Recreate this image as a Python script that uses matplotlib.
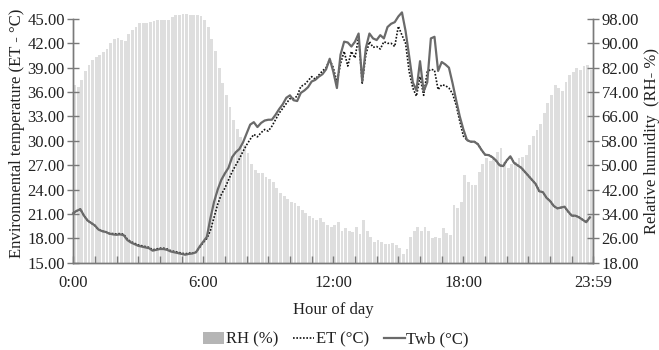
import numpy as np
import matplotlib
matplotlib.use("Agg")
import matplotlib.pyplot as plt
from matplotlib.ticker import FixedLocator, MultipleLocator
from matplotlib.patches import Patch
from matplotlib.lines import Line2D

plt.rcParams['font.family'] = ['Liberation Serif', 'DejaVu Serif']

# 10-minute readings, hours 0..23 (6 values per hour)
minutes = list(range(0, 1440, 10))

twb = [21.1, 21.4, 21.6, 20.8, 20.2, 19.9,
       19.6, 19.1, 18.9, 18.8, 18.6, 18.5,
       18.45, 18.5, 18.4, 17.8, 17.5, 17.3,
       17.1, 17.0, 16.9, 16.8, 16.5, 16.6,
       16.7, 16.7, 16.6, 16.4, 16.3, 16.2,
       16.1, 16.0, 16.1, 16.15, 16.3, 17.0,
       17.6, 18.2, 20.5, 22.5, 24.0, 25.2,
       26.0, 26.7, 28.0, 28.6, 29.0, 29.8,
       30.9, 32.0, 32.3, 31.7, 32.2, 32.5,
       32.6, 32.6, 33.2, 33.9, 34.5, 35.3,
       35.6, 35.0, 34.9, 35.9, 36.2, 36.6,
       37.3, 37.5, 37.9, 38.2, 38.8, 40.1,
       38.5, 36.5, 40.6, 42.2, 42.1, 41.6,
       42.2, 43.2, 37.3, 41.4, 43.2, 42.6,
       42.4, 43.0, 42.6, 44.0, 44.4, 44.6,
       45.3, 45.8, 43.5, 40.4, 37.2, 36.2,
       39.8, 36.1, 37.2, 42.6, 42.8, 38.6,
       39.7, 39.4, 39.0, 37.1, 35.0, 33.0,
       31.4, 30.1, 29.9, 29.9, 29.6, 28.9,
       28.3, 28.25, 28.0, 27.6, 27.0, 26.9,
       27.6, 28.1, 27.3, 27.0, 26.7, 26.2,
       25.7, 25.2, 24.7, 23.8, 23.7, 23.0,
       22.6, 22.0, 21.7, 21.8, 21.9, 21.3,
       20.8, 20.8, 20.6, 20.3, 20.0, 20.6]

et = [21.1, 21.4, 21.6, 20.8, 20.2, 19.9,
      19.6, 19.1, 18.9, 18.8, 18.6, 18.6,
      18.55, 18.6, 18.5, 17.9, 17.6, 17.4,
      17.2, 17.1, 17.0, 16.9, 16.6, 16.7,
      16.8, 16.8, 16.7, 16.5, 16.4, 16.3,
      16.2, 16.1, 16.2, 16.2, 16.3, 16.9,
      17.5, 18.0, 19.0, 20.6, 22.2, 23.4,
      24.2, 25.2, 26.2, 27.0, 27.8, 28.7,
      29.5, 30.2, 30.8, 30.5, 31.0, 31.4,
      31.2, 31.8, 32.6, 33.4, 34.0, 34.6,
      35.2, 35.2, 35.5, 36.7, 36.9, 37.4,
      37.9, 37.6, 38.1, 38.6, 39.0, 40.0,
      39.0, 37.2, 39.5, 41.0, 39.2, 41.0,
      40.2, 42.8, 37.1, 40.6, 42.2, 41.5,
      41.6, 41.3, 42.2, 42.0, 42.0, 41.6,
      44.1, 43.0, 42.0, 38.5, 36.5, 35.5,
      37.9, 35.6, 38.5, 38.8, 38.7, 36.3,
      36.9, 36.8, 36.5, 35.8, 34.4, 32.4,
      30.6, 30.1, 29.9, 29.9, 29.6, 28.9,
      28.3, 28.25, 28.0, 27.6, 27.0, 26.9,
      27.6, 28.1, 27.3, 27.0, 26.7, 26.2,
      25.7, 25.2, 24.7, 23.8, 23.7, 23.0,
      22.6, 22.0, 21.7, 21.8, 21.9, 21.3,
      20.8, 20.8, 20.6, 20.3, 20.0, 20.6]

rh = [76.4, 75.8, 78.0, 81.0, 83.0, 84.5,
      85.5, 86.0, 87.0, 88.0, 90.0, 91.5,
      91.7, 91.0, 90.8, 93.0, 94.5, 95.5,
      96.5, 96.6, 96.8, 97.1, 97.3, 97.5,
      97.7, 97.6, 97.8, 98.5, 99.3, 99.3,
      99.5, 99.5, 99.4, 99.3, 99.4, 99.0,
      97.5, 95.5, 91.5, 87.5, 82.0, 77.0,
      73.1, 69.0, 65.0, 62.0, 59.4, 56.5,
      54.0, 50.5, 48.5, 47.5, 47.5, 46.0,
      45.5, 44.5, 42.5, 41.0, 39.8, 39.0,
      38.1, 37.5, 36.5, 35.2, 34.5, 33.5,
      32.7, 32.2, 32.6, 31.5, 30.5, 29.9,
      30.5, 31.5, 28.5, 29.4, 28.5, 28.0,
      29.9, 27.5, 32.1, 28.3, 26.5, 25.0,
      25.5, 24.8, 24.2, 24.1, 24.5, 24.0,
      22.8, 20.9, 22.5, 26.6, 28.5, 29.9,
      28.3, 29.9, 28.5, 26.1, 26.5, 26.1,
      29.4, 27.9, 27.2, 37.0, 36.0, 38.0,
      46.9, 44.5, 43.6, 43.6, 47.9, 50.5,
      52.3, 51.5, 52.5, 54.5, 55.6, 51.2,
      49.0, 50.5, 51.2, 52.3, 52.8, 53.4,
      56.7, 59.5, 61.5, 63.5, 67.0, 70.5,
      73.1, 76.4, 75.5, 74.2, 77.4, 79.5,
      80.7, 81.8, 81.2, 82.5, 82.9, 81.2]

xtick_pos = [0, 6, 12, 18, 23.983]
xtick_labels = ["0:00", "6:00", "12:00", "18:00", "23:59"]
temp_ticks = [15, 18, 21, 24, 27, 30, 33, 36, 39, 42, 45]
rh_ticks = [18, 26, 34, 42, 50, 58, 66, 74, 82, 90, 98]

hours = np.array(minutes) / 60.0
rh_base = rh_ticks[0]

fig = plt.figure(figsize=(6.59, 3.5), dpi=100)
ax = fig.add_axes([0.111, 0.249, 0.789, 0.697])
ax2 = ax.twinx()

ax2.bar(hours, np.array(rh) - rh_base, bottom=rh_base, width=0.13, align='edge',
        color='#dedede', linewidth=0, zorder=1, clip_on=False)
ax.plot(hours, et, color='#111111', linestyle=(0, (1, 1)), linewidth=1.2,
        zorder=3, clip_on=False)
ax.plot(hours, twb, color='#6a6a6a', linewidth=1.6, zorder=4, clip_on=False)

ax.set_zorder(ax2.get_zorder() + 1)
ax.patch.set_visible(False)

ax.set_xlim(0, 23.983)
ax2.set_xlim(0, 23.983)
ax.set_ylim(15, 45)
ax2.set_ylim(18, 98)

ax.set_yticks(temp_ticks)
ax.set_yticklabels([f"{v:.2f}" for v in temp_ticks])
ax2.set_yticks(rh_ticks)
ax2.set_yticklabels([f"{v:.2f}" for v in rh_ticks])
ax.xaxis.set_major_locator(FixedLocator(xtick_pos))
ax.set_xticklabels(xtick_labels)
ax.xaxis.set_minor_locator(MultipleLocator(1))

spine_col = '#7a7a7a'
txt_col = '#222222'
for a in (ax, ax2):
    a.spines['top'].set_visible(False)
    for s in ('left', 'right', 'bottom'):
        a.spines[s].set_color(spine_col)
        a.spines[s].set_linewidth(1.0)
ax.tick_params(axis='y', direction='inout', length=8, width=1, color=spine_col,
               labelsize=12, labelcolor=txt_col, pad=2)
ax2.tick_params(axis='y', direction='inout', length=8, width=1, color=spine_col,
                labelsize=12, labelcolor=txt_col, pad=2)
ax.tick_params(axis='x', which='both', direction='in', length=5, width=1, color=spine_col,
               labelsize=12, labelcolor=txt_col, pad=9)

ax.set_ylabel("Environmental temperature (ET - °C)", fontsize=12, color=txt_col)
ax.yaxis.set_label_coords(-0.092, 0.53)
ax2.set_ylabel("Relative humidity  (RH- %)", fontsize=12, color=txt_col, labelpad=4)
ax.set_xlabel("Hour of day", fontsize=12, color=txt_col, labelpad=8)

handles = [Patch(facecolor='#b5b5b5', edgecolor='none'),
           Line2D([], [], color='#111111', linestyle=(0, (1, 1)), linewidth=1.2),
           Line2D([], [], color='#6a6a6a', linewidth=1.6)]
fig.legend(handles, ["RH (%)", "ET (°C)", "Twb (°C)"], loc='center',
           bbox_to_anchor=(0.51, 0.03), ncol=3, frameon=False, fontsize=12,
           handlelength=1.25, handletextpad=0.1, columnspacing=0.9,
           labelcolor=txt_col)

fig.savefig("out.png", dpi=100)
